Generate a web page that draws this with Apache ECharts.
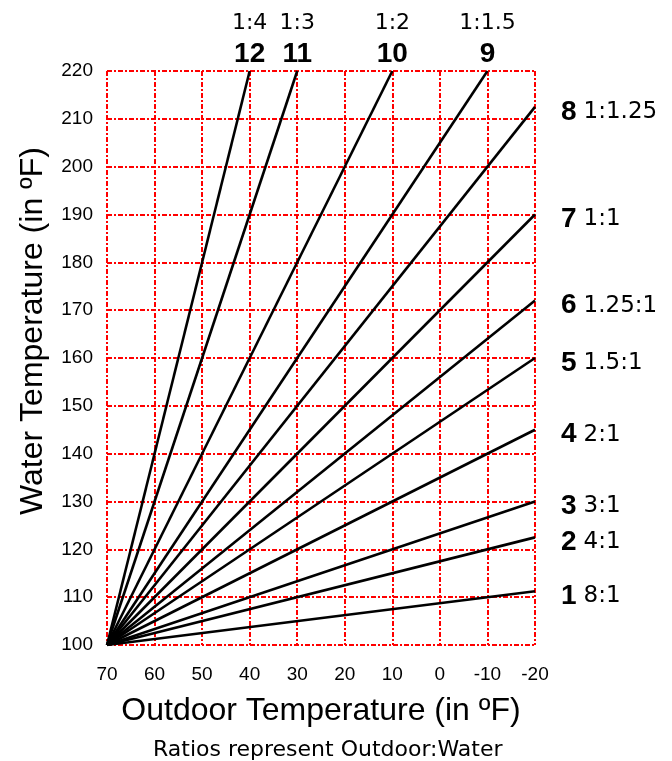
<!DOCTYPE html>
<html>
<head>
<meta charset="utf-8">
<script src="https://cdn.jsdelivr.net/npm/echarts@6/dist/echarts.min.js"></script>
<style>
html,body{margin:0;padding:0;background:#fff;}
#chart{width:672px;height:761px;}
</style>
</head>
<body>
<div id="chart"></div>
<script>
// Curve numbers and ratios (Outdoor:Water)
const curveNumbers = ['1','2','3','4','5','6','7','8','9','10','11','12'];
const curveRatios = ['8:1','4:1','3:1','2:1','1.5:1','1.25:1','1:1','1:1.25','1:1.5','1:2','1:3','1:4'];
// Every curve starts at (70 °F outdoor, 100 °F water)
const startOutdoor = 70;
const startWater = 100;
// End points
const endOutdoor = [-20, -20, -20, -20, -20, -20, -20, -20, -10, 10, 30, 40];
const endWater = [111.25, 122.5, 130, 145, 160, 172, 190, 212.5, 220, 220, 220, 220];
// Curves labelled on the right side vs. above the plot
const rightLabelled = [true, true, true, true, true, true, true, true, false, false, false, false];
// Axis ticks
const xTicks = [70, 60, 50, 40, 30, 20, 10, 0, -10, -20];
const yTicks = [100, 110, 120, 130, 140, 150, 160, 170, 180, 190, 200, 210, 220];

const FONT = '"Liberation Sans", Arial, Helvetica, sans-serif';
const WIDE = '"DejaVu Sans", "Liberation Sans", sans-serif';
const chart = echarts.init(document.getElementById('chart'), null, {renderer: 'canvas'});

const gridLine = {
  show: true,
  lineStyle: {color: '#ff0000', width: 2, type: [5, 2, 2, 2]}
};

const series = curveNumbers.map((num, i) => {
  const right = rightLabelled[i];
  return {
    type: 'line',
    name: num,
    data: [[startOutdoor, startWater], [endOutdoor[i], endWater[i]]],
    showSymbol: false,
    symbol: 'none',
    silent: true,
    animation: false,
    lineStyle: {color: '#000', width: 2.6},
    endLabel: right ? {
      show: true,
      distance: 0,
      align: 'left',
      verticalAlign: 'middle',
      offset: [26, 5],
      formatter: () => '{b|' + num + '}{r|' + curveRatios[i] + '}',
      rich: {
        b: {fontFamily: FONT, fontSize: 28, fontWeight: 'bold', color: '#000'},
        r: {fontFamily: WIDE, fontSize: 23, color: '#000', padding: [0, 0, 0, 7]}
      }
    } : {
      show: true,
      distance: 0,
      align: 'center',
      verticalAlign: 'bottom',
      offset: [0, -2],
      formatter: () => '{r|' + curveRatios[i] + '}\n{b|' + num + '}',
      rich: {
        r: {fontFamily: WIDE, fontSize: 22, color: '#000', lineHeight: 32, align: 'center'},
        b: {fontFamily: FONT, fontSize: 28, fontWeight: 'bold', color: '#000', lineHeight: 30, align: 'center'}
      }
    }
  };
});

chart.setOption({
  animation: false,
  backgroundColor: '#fff',
  title: {
    text: 'Ratios represent Outdoor:Water',
    left: 148,
    top: 734,
    textStyle: {fontFamily: WIDE, fontSize: 22, fontWeight: 'normal', color: '#000'}
  },
  grid: {left: 107, right: 137, top: 71, bottom: 116},
  xAxis: {
    type: 'value',
    inverse: true,
    min: xTicks[xTicks.length - 1],
    max: xTicks[0],
    interval: 10,
    name: 'Outdoor Temperature (in ºF)',
    nameLocation: 'middle',
    nameGap: 50,
    nameTextStyle: {fontFamily: FONT, fontSize: 32, color: '#000'},
    axisLine: {show: false},
    axisTick: {show: false},
    axisLabel: {fontFamily: FONT, fontSize: 19, color: '#000', margin: 20},
    splitLine: gridLine
  },
  yAxis: {
    type: 'value',
    min: yTicks[0],
    max: yTicks[yTicks.length - 1],
    interval: 10,
    name: 'Water Temperature (in ºF)',
    nameLocation: 'middle',
    nameGap: 58,
    nameTextStyle: {fontFamily: FONT, fontSize: 32, color: '#000', padding: [0, 0, 0, 54]},
    axisLine: {show: false},
    axisTick: {show: false},
    axisLabel: {fontFamily: FONT, fontSize: 19, color: '#000', margin: 14},
    splitLine: gridLine
  },
  series: series
});
</script>
</body>
</html>
